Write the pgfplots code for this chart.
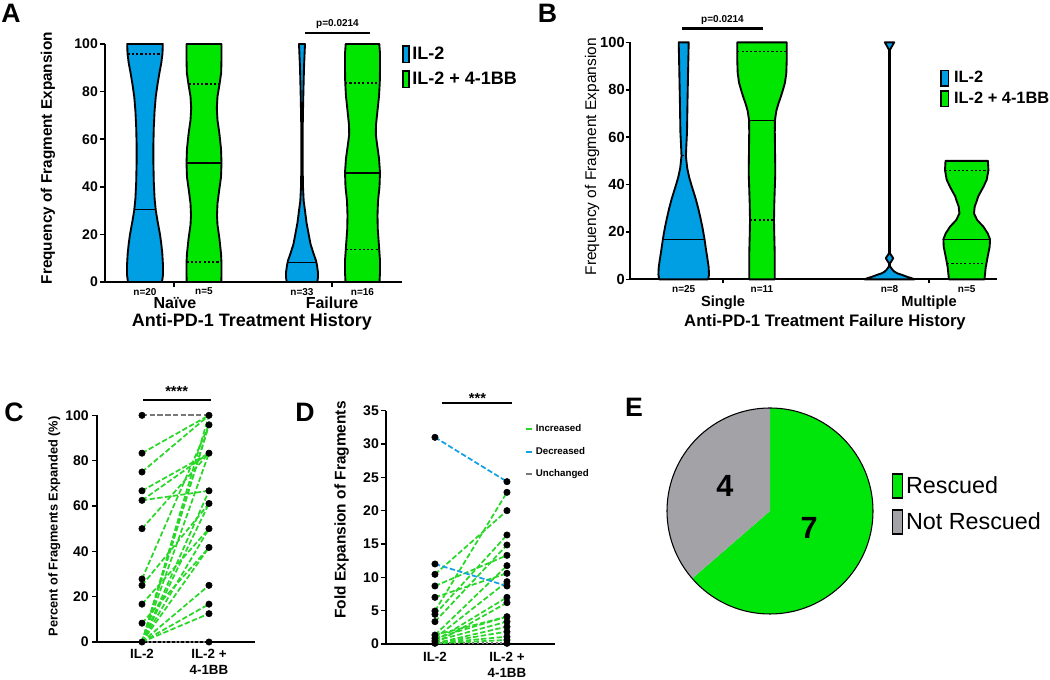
\documentclass[border=0pt]{standalone}
\usepackage{pgfplots}
\pgfplotsset{compat=1.18}
\usepackage{fontspec}
\setmainfont{Liberation Sans}
\definecolor{ilblue}{RGB}{0,158,226}
\definecolor{ilgreen}{RGB}{0,230,0}
\definecolor{lgreen}{RGB}{40,215,40}
\definecolor{lblue}{RGB}{20,160,230}
\definecolor{lgray}{RGB}{120,120,120}
\definecolor{piegreen}{RGB}{0,230,10}
\definecolor{piegray}{RGB}{163,162,167}
\pgfplotsset{
  vshift/.style={x filter/.expression={x+#1}},
  violin/.style={fill=#1, draw=black, line width=1.4pt, line join=round, forget plot},
  med/.style={black, line width=1pt, forget plot},
  quart/.style={black, line width=1.2pt, dash pattern=on 1.6pt off 1.6pt, forget plot},
  panelaxis/.style={scale only axis, anchor=south west, axis x line*=bottom, axis y line*=left,
    axis line style={line width=1.5pt}, tick align=outside, major tick length=4pt,
    tick style={black, line width=1.2pt}, clip=false, /pgf/number format/assume math mode=true},
  pair/.style={lgreen, line width=1.3pt, dash pattern=on 4pt off 1.8pt, forget plot},
  bpair/.style={lblue, line width=1.3pt, dash pattern=on 4pt off 1.8pt, forget plot},
  gpair/.style={lgray, line width=1.3pt, dash pattern=on 4pt off 1.8pt, forget plot},
}
\newcommand{\fsz}[1]{\fontsize{#1}{1.2\dimexpr #1pt\relax}\selectfont}
\begin{document}
\begin{tikzpicture}
\useasboundingbox (0,0) rectangle (787.5pt,510pt);
\pgfmathsetmacro{\nresc}{7}
\pgfmathsetmacro{\nnot}{4}
\pgfmathsetmacro{\angG}{90-360*\nresc/(\nresc+\nnot)}

% panel letters
\node[font=\bfseries\fsz{20}] at (8.25pt,499.9pt) {A};
\node[font=\bfseries\fsz{20}] at (410.6pt,499.9pt) {B};
\node[font=\bfseries\fsz{20}] at (10.5pt,200.6pt) {C};
\node[font=\bfseries\fsz{20}] at (228.75pt,200.6pt) {D};
\node[font=\bfseries\fsz{20}] at (475.5pt,204.4pt) {E};

% ================= Panel A =================
\begin{axis}[panelaxis,
  at={(78.75pt,298.5pt)}, width=222.75pt, height=178.5pt,
  xmin=0, xmax=297, ymin=0, ymax=100,
  xtick={69,227}, xticklabels={}, ytick={0,20,...,100},
  yticklabel style={font=\bfseries\fsz{10.5}, inner sep=1.2pt},
  ylabel={Frequency of Fragment Expansion},
  ylabel style={at={(axis description cs:-0.192,0.52)}, anchor=center, font=\bfseries\fsz{11.5}},
  legend style={at={(axis description cs:1.0,1.0)}, anchor=north west, draw=none, fill=none,
    font=\bfseries\fsz{13.5}, legend cell align=left, row sep=4pt, inner sep=0pt},
  legend image code/.code={\draw[#1, line width=1.1pt] (0pt,-6.2pt) rectangle (4.5pt,6.2pt);},
]
\addlegendimage{fill=ilblue, draw=black}\addlegendentry{IL-2}
\addlegendimage{fill=ilgreen, draw=black}\addlegendentry{IL-2 + 4-1BB}
% Naive IL-2
\addplot[violin=ilblue, vshift=40] coordinates {(17,0) (18,3) (18,7) (17.3,12) (16.3,16) (15,20) (12.8,25) (10.8,30) (9.6,35) (8.8,42) (8.4,50) (8.4,58) (8.8,65) (9.6,72) (10.8,78) (12.5,83) (14.5,88) (16.3,92) (17.5,96) (17.8,100)
 (-17.8,100) (-17.5,96) (-16.3,92) (-14.5,88) (-12.5,83) (-10.8,78) (-9.6,72) (-8.8,65) (-8.4,58) (-8.4,50) (-8.8,42) (-9.6,35) (-10.8,30) (-12.8,25) (-15,20) (-16.3,16) (-17.3,12) (-18,7) (-18,3) (-17,0) (17,0)};
\addplot[med, vshift=40] coordinates {(-10.7,30.5) (10.7,30.5)};
\addplot[quart, vshift=40] coordinates {(-17.4,95.8) (17.4,95.8)};
% Naive IL-2 + 4-1BB
\addplot[violin=ilgreen, vshift=99] coordinates {(17.3,0) (17.5,3) (17.5,8) (17,12) (15.5,18) (13.5,24) (13,28) (13.5,33) (15,38) (17,44) (17.5,50) (17,56) (15.5,62) (13.5,68) (12.8,73) (13.5,78) (15.5,83) (17.2,88) (17.5,94) (17.5,100)
 (-17.5,100) (-17.5,94) (-17.2,88) (-15.5,83) (-13.5,78) (-12.8,73) (-13.5,68) (-15.5,62) (-17,56) (-17.5,50) (-17,44) (-15,38) (-13.5,33) (-13,28) (-13.5,24) (-15.5,18) (-17,12) (-17.5,8) (-17.5,3) (-17.3,0) (17.3,0)};
\addplot[med, vshift=99] coordinates {(-17.5,50) (17.5,50)};
\addplot[quart, vshift=99] coordinates {(-15.6,83.3) (15.6,83.3)};
\addplot[quart, vshift=99] coordinates {(-17.5,8.3) (17.5,8.3)};
% Failure IL-2
\addplot[violin=ilblue, vshift=197] coordinates {(15.3,0) (16,2) (16,4) (15,7) (14,9) (11.5,12) (8.5,16) (6.7,20) (4.5,25) (3,30) (1.7,34) (1,40) (0.6,50) (0.6,60) (0.9,70) (1.4,80) (2,90) (2.5,95) (3,100)
 (-3,100) (-2.5,95) (-2,90) (-1.4,80) (-0.9,70) (-0.6,60) (-0.6,50) (-1,40) (-1.7,34) (-3,30) (-4.5,25) (-6.7,20) (-8.5,16) (-11.5,12) (-14,9) (-15,7) (-16,4) (-16,2) (-15.3,0) (15.3,0)};
\addplot[med, vshift=197] coordinates {(-14.3,8.3) (14.3,8.3)};
% Failure IL-2 + 4-1BB
\addplot[violin=ilgreen, vshift=257.5] coordinates {(17,0) (17.5,4) (17.5,9) (16.5,15) (15.3,22) (15,28) (15.5,34) (17,40) (17.5,46) (16.5,52) (14.5,58) (13.3,62) (13.5,66) (15,72) (16.5,78) (17.3,84) (17.5,90) (17.5,96) (16.8,100)
 (-16.8,100) (-17.5,96) (-17.5,90) (-17.3,84) (-16.5,78) (-15,72) (-13.5,66) (-13.3,62) (-14.5,58) (-16.5,52) (-17.5,46) (-17,40) (-15.5,34) (-15,28) (-15.3,22) (-16.5,15) (-17.5,9) (-17.5,4) (-17,0) (17,0)};
\addplot[med, vshift=257.5] coordinates {(-17.5,45.8) (17.5,45.8)};
\addplot[quart, vshift=257.5] coordinates {(-17.3,83.5) (17.3,83.5)};
\addplot[quart, vshift=257.5] coordinates {(-16.8,13.7) (16.8,13.7)};
% significance
\addplot[black, line width=2pt, forget plot] coordinates {(200,104.6) (265,104.6)};
\node[font=\bfseries\fsz{7.5}] at (axis cs:232.5,108.5) {p=0.0214};
% labels
\node[font=\bfseries\fsz{7.5}, anchor=north, yshift=-1pt] at (axis cs:40,0) {n=20};
\node[font=\bfseries\fsz{7.5}, anchor=north, yshift=-1pt] at (axis cs:99,0) {n=5};
\node[font=\bfseries\fsz{7.5}, anchor=north, yshift=-1pt] at (axis cs:197,0) {n=33};
\node[font=\bfseries\fsz{7.5}, anchor=north, yshift=-1pt] at (axis cs:257.5,0) {n=16};
\node[font=\bfseries\fsz{12}] at (axis cs:70,-8.8) {Naïve};
\node[font=\bfseries\fsz{12}] at (axis cs:227,-8.8) {Failure};
\node[font=\bfseries\fsz{13.5}] at (axis cs:147,-16.9) {Anti-PD-1 Treatment History};
\end{axis}

% ================= Panel B =================
\begin{axis}[panelaxis,
  at={(472.5pt,300.5pt)}, width=275.25pt, height=177.75pt,
  xmin=0, xmax=367, ymin=0, ymax=100,
  xtick={93,299}, xticklabels={}, ytick={0,20,...,100}, major tick length=3pt,
  yticklabel style={font=\bfseries\fsz{11}, inner sep=0.8pt},
  ylabel={Frequency of Fragment Expansion},
  ylabel style={at={(axis description cs:-0.103,0.517)}, anchor=center, font=\fsz{11.6}},
  legend style={at={(axis description cs:0.845,0.89)}, anchor=north west, draw=none, fill=none,
    font=\bfseries\fsz{12.3}, legend cell align=left, row sep=1.5pt, inner sep=0pt},
  legend image code/.code={\draw[#1, line width=1.1pt] (0pt,-5.8pt) rectangle (5.5pt,5.8pt); \path (7.5pt,0pt);},
]
\addlegendimage{fill=ilblue, draw=black}\addlegendentry{IL-2}
\addlegendimage{fill=ilgreen, draw=black}\addlegendentry{IL-2 + 4-1BB}
% Single IL-2
\addplot[violin=ilblue, vshift=53.7] coordinates {(24.5,0) (25.3,2) (25,5) (24,8) (22.5,12) (20.8,17) (18.7,22) (16.7,26) (14.5,30) (12,34) (8.3,39) (5.5,43) (3.5,47) (2.2,52) (2.7,57) (3.3,62) (3.8,75) (4.5,90) (5,100)
 (-5,100) (-4.5,90) (-3.8,75) (-3.3,62) (-2.7,57) (-2.2,52) (-3.5,47) (-5.5,43) (-8.3,39) (-12,34) (-14.5,30) (-16.7,26) (-18.7,22) (-20.8,17) (-22.5,12) (-24,8) (-25,5) (-25.3,2) (-24.5,0) (24.5,0)};
\addplot[med, vshift=53.7] coordinates {(-20.8,16.9) (20.8,16.9)};
\addplot[quart, vshift=53.7] coordinates {(-2.3,52.2) (2.3,52.2)};
% Single IL-2 + 4-1BB
\addplot[violin=ilgreen, vshift=132] coordinates {(12.8,0) (12.8,10) (12.2,20) (12,25) (12.3,32) (13.3,45) (13,55) (12.8,62) (12.9,67) (14.3,71) (16.3,74) (18.8,77) (21,80) (23,83) (24.3,87) (24.7,92) (24.7,100)
 (-24.7,100) (-24.7,92) (-24.3,87) (-23,83) (-21,80) (-18.8,77) (-16.3,74) (-14.3,71) (-12.9,67) (-12.8,62) (-13,55) (-13.3,45) (-12.3,32) (-12,25) (-12.2,20) (-12.8,10) (-12.8,0) (12.8,0)};
\addplot[med, vshift=132] coordinates {(-12.9,67) (12.9,67)};
\addplot[quart, vshift=132] coordinates {(-24.7,96.1) (24.7,96.1)};
\addplot[quart, vshift=132] coordinates {(-12,25) (12,25)};
% Multiple IL-2
\addplot[violin=ilblue, vshift=259.5] coordinates {(25,0) (22,0.5) (18,1) (13,1.8) (8,2.5) (5,3.2) (3,4) (2,4.6) (0.5,5.5) (0.4,6.7) (2,7.7) (3.7,8.9) (2,10) (0.4,11) (0.4,96.8) (2,98) (4.7,100)
 (-4.7,100) (-2,98) (-0.4,96.8) (-0.4,11) (-2,10) (-3.7,8.9) (-2,7.7) (-0.4,6.7) (-0.5,5.5) (-2,4.6) (-3,4) (-5,3.2) (-8,2.5) (-13,1.8) (-18,1) (-22,0.5) (-25,0) (25,0)};
% Multiple IL-2 + 4-1BB
\addplot[violin=ilgreen, vshift=336.7] coordinates {(17.8,0) (19,5) (21,9.6) (23,13.8) (23.3,16.9) (21,19.4) (16.7,22.2) (10.5,25) (7.3,27.8) (8,30.7) (10,33) (11.5,35) (16.7,39) (20,42) (21.7,46) (21.2,50)
 (-21.2,50) (-21.7,46) (-20,42) (-16.7,39) (-11.5,35) (-10,33) (-8,30.7) (-7.3,27.8) (-10.5,25) (-16.7,22.2) (-21,19.4) (-23.3,16.9) (-23,13.8) (-21,9.6) (-19,5) (-17.8,0) (17.8,0)};
\addplot[med, vshift=336.7] coordinates {(-23.3,16.9) (23.3,16.9)};
\addplot[quart, vshift=336.7] coordinates {(-21.7,45.9) (21.7,45.9)};
\addplot[quart, vshift=336.7] coordinates {(-19.5,6.75) (19.5,6.75)};
% significance
\addplot[black, line width=2pt, forget plot] coordinates {(52,105.9) (133,105.9)};
\node[font=\bfseries\fsz{7.5}] at (axis cs:92.5,109.6) {p=0.0214};
\node[font=\bfseries\fsz{7.5}, anchor=north, yshift=-1pt] at (axis cs:53.7,0) {n=25};
\node[font=\bfseries\fsz{7.5}, anchor=north, yshift=-1pt] at (axis cs:132,0) {n=11};
\node[font=\bfseries\fsz{7.5}, anchor=north, yshift=-1pt] at (axis cs:259.5,0) {n=8};
\node[font=\bfseries\fsz{7.5}, anchor=north, yshift=-1pt] at (axis cs:336.7,0) {n=5};
\node[font=\bfseries\fsz{11}] at (axis cs:93,-9.9) {Single};
\node[font=\bfseries\fsz{11}] at (axis cs:299,-9.9) {Multiple};
\node[font=\bfseries\fsz{12.5}] at (axis cs:195,-17.9) {Anti-PD-1 Treatment Failure History};
\end{axis}

% ================= Panel C =================
\begin{axis}[panelaxis,
  at={(72.75pt,28.5pt)}, width=118.5pt, height=170pt,
  xmin=0.328, xmax=2.687, ymin=0, ymax=100,
  xtick={1,2}, xticklabels={IL-2,{IL-2 +\\4-1BB}},
  x tick style={draw=none},
  xticklabel style={font=\bfseries\fsz{10}, align=center, yshift=2pt},
  ytick={0,20,...,100},
  yticklabel style={font=\bfseries\fsz{10.5}, inner sep=2pt},
  ylabel={Percent of Fragments Expanded (\%)},
  ylabel style={at={(axis description cs:-0.27,0.51)}, anchor=center, font=\bfseries\fsz{9.6}},
]
\addplot[gpair] coordinates {(1,100) (2,100)};
\addplot[gpair, dash pattern=on 1.5pt off 2pt] coordinates {(1,0) (2,0)};
\addplot[pair] coordinates {(1,83.3) (2,100)};
\addplot[pair] coordinates {(1,75) (2,100)};
\addplot[pair] coordinates {(1,66.7) (2,83.3)};
\addplot[pair] coordinates {(1,62.5) (2,83.3)};
\addplot[pair] coordinates {(1,62.5) (2,66.7)};
\addplot[pair] coordinates {(1,50) (2,83.3)};
\addplot[pair] coordinates {(1,27.8) (2,95.8)};
\addplot[pair] coordinates {(1,25) (2,61.1)};
\addplot[pair] coordinates {(1,16.7) (2,50)};
\addplot[pair] coordinates {(1,8.3) (2,41.7)};
\addplot[pair] coordinates {(1,0) (2,100)};
\addplot[pair] coordinates {(1,0) (2,95.8)};
\addplot[pair] coordinates {(1,0) (2,95.8)};
\addplot[pair] coordinates {(1,0) (2,83.3)};
\addplot[pair] coordinates {(1,0) (2,66.7)};
\addplot[pair] coordinates {(1,0) (2,61.1)};
\addplot[pair] coordinates {(1,0) (2,50)};
\addplot[pair] coordinates {(1,0) (2,41.7)};
\addplot[pair] coordinates {(1,0) (2,25)};
\addplot[pair] coordinates {(1,0) (2,16.7)};
\addplot[pair] coordinates {(1,0) (2,12.5)};
\addplot[only marks, mark=*, mark size=2.4pt, black, forget plot] coordinates {(1,100) (1,83.3) (1,75) (1,66.7) (1,62.5) (1,50) (1,27.8) (1,25) (1,16.7) (1,8.3) (1,0)
 (2,100) (2,95.8) (2,83.3) (2,66.7) (2,61.1) (2,50) (2,41.7) (2,25) (2,16.7) (2,12.5) (2,0)};
\addplot[black, line width=1.5pt, forget plot] coordinates {(1.015,106.8) (2.03,106.8)};
\node[font=\bfseries\fsz{11}] at (axis cs:1.518,110.5) {****};
\end{axis}

% ================= Panel D =================
\begin{axis}[panelaxis,
  at={(289.5pt,27pt)}, width=126.75pt, height=175pt,
  xmin=0.32, xmax=2.667, ymin=0, ymax=35,
  xtick={1,2}, xticklabels={IL-2,{IL-2 +\\4-1BB}},
  x tick style={draw=none},
  xticklabel style={font=\bfseries\fsz{10}, align=center, yshift=1.5pt},
  ytick={0,5,...,35},
  yticklabel style={font=\bfseries\fsz{10.5}, inner sep=1.2pt},
  ylabel={Fold Expansion of Fragments},
  ylabel style={at={(axis description cs:-0.262,0.574)}, anchor=center, font=\bfseries\fsz{11.6}},
  legend style={at={(axis cs:2.24,33.3)}, anchor=north west, draw=none, fill=none,
    font=\bfseries\fsz{7.3}, legend cell align=left, row sep=6pt, inner sep=0pt},
  legend image code/.code={\draw[#1, solid, line width=1.5pt] (0pt,0pt) -- (5pt,0pt);},
]
\addlegendimage{lgreen}\addlegendentry{Increased}
\addlegendimage{lblue}\addlegendentry{Decreased}
\addlegendimage{lgray}\addlegendentry{Unchanged}
\addplot[gpair, dash pattern=on 1.5pt off 2pt] coordinates {(1,0.1) (2,0.1)};
\addplot[pair] coordinates {(1,10.45) (2,20)};
\addplot[pair] coordinates {(1,8.7) (2,13.3)};
\addplot[pair] coordinates {(1,7) (2,10.6)};
\addplot[pair] coordinates {(1,4.95) (2,22.75)};
\addplot[pair] coordinates {(1,4.45) (2,16.35)};
\addplot[pair] coordinates {(1,3.35) (2,14.85)};
\addplot[pair] coordinates {(1,1.35) (2,11.75)};
\addplot[pair] coordinates {(1,0.85) (2,9.35)};
\addplot[pair] coordinates {(1,0.45) (2,7)};
\addplot[pair] coordinates {(1,0.1) (2,6.2)};
\addplot[pair] coordinates {(1,0.85) (2,4.1)};
\addplot[pair] coordinates {(1,0.45) (2,3.35)};
\addplot[pair] coordinates {(1,0.1) (2,2.6)};
\addplot[pair] coordinates {(1,0.1) (2,1.85)};
\addplot[pair] coordinates {(1,0.1) (2,1.1)};
\addplot[pair] coordinates {(1,0.1) (2,0.6)};
\addplot[pair] coordinates {(1,1.35) (2,4.1)};
\addplot[bpair] coordinates {(1,31) (2,24.35)};
\addplot[bpair] coordinates {(1,12) (2,8.7)};
\addplot[only marks, mark=*, mark size=2.4pt, black, forget plot] coordinates {(1,31) (1,12) (1,10.45) (1,8.7) (1,7) (1,4.95) (1,4.45) (1,3.35) (1,1.35) (1,0.85) (1,0.45) (1,0.1)
 (2,24.35) (2,22.75) (2,20) (2,16.35) (2,14.85) (2,13.3) (2,11.75) (2,10.6) (2,9.35) (2,8.7) (2,7) (2,6.2) (2,4.1) (2,3.35) (2,2.6) (2,1.85) (2,1.1) (2,0.6) (2,0.1)};
\addplot[black, line width=1.5pt, forget plot] coordinates {(1.093,36.1) (2.07,36.1)};
\node[font=\bfseries\fsz{11}] at (axis cs:1.59,36.9) {***};
\end{axis}

% ================= Panel E =================
\begin{axis}[scale only axis, hide axis, anchor=center,
  at={(577.5pt,126.75pt)}, width=154.5pt, height=154.5pt,
  xmin=-1, xmax=1, ymin=-1, ymax=1, clip=false,
  legend style={at={(axis description cs:1.091,0.684)}, anchor=north west, draw=none, fill=none,
    font=\fsz{17.5}, legend cell align=left, row sep=8pt, inner sep=0pt},
  legend image code/.code={\draw[#1, line width=1pt] (0pt,-9pt) rectangle (7.5pt,9pt);},
]
\addlegendimage{fill=piegreen, draw=black}\addlegendentry{Rescued}
\addlegendimage{fill=piegray, draw=black}\addlegendentry{Not Rescued}
\fill[piegreen] (axis cs:0,0) -- (axis cs:0,1) arc[start angle=90, end angle=\angG, radius=77.25pt] -- cycle;
\fill[piegray] (axis cs:0,0) -- (axis cs:0,1) arc[start angle=90, end angle={\angG+360}, radius=77.25pt] -- cycle;
\draw[black, line width=0.8pt] (axis cs:0,0) circle[radius=77.25pt];
\node[font=\bfseries\fsz{23}] at (axis cs:-0.437,0.243) {4};
\node[font=\bfseries\fsz{23}] at (axis cs:0.38,-0.16) {7};
\end{axis}
\end{tikzpicture}
\end{document}
